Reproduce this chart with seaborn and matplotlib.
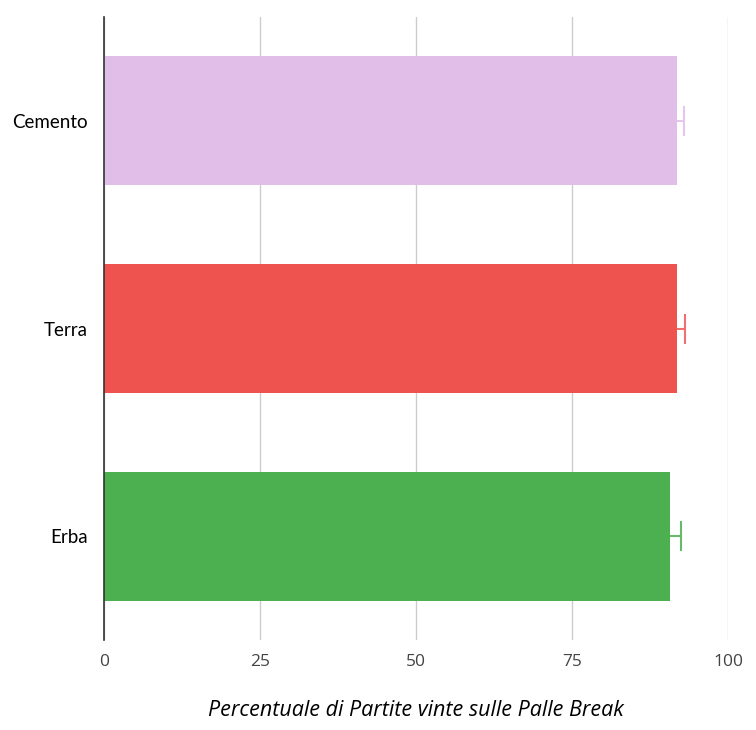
import matplotlib
matplotlib.use("Agg")
import matplotlib.pyplot as plt
import seaborn as sns
import pandas as pd

categories = ["Cemento", "Terra", "Erba"]
values = [91.9, 91.9, 90.7]
errors = [1.0, 1.2, 1.8]
colors = ["#e1bee7", "#ef5350", "#4caf50"]
err_colors = ["#e6c6ec", "#f07070", "#66bb6a"]
xticks = [0, 25, 50, 75, 100]

sns.set_theme(style="white")
plt.rcParams['font.family'] = ['Open Sans', 'DejaVu Sans']

df = pd.DataFrame({"cat": categories, "val": values})

fig = plt.figure(figsize=(7.56, 7.30), dpi=100)
ax = fig.add_axes([104/756, 1 - 640/730, (728-104)/756, (640-17)/730])

sns.barplot(data=df, x="val", y="cat", hue="cat", palette=colors, order=categories,
            orient="h", width=0.62, ax=ax, legend=False, errorbar=None, zorder=3,
            saturation=1)
for p in ax.patches:
    p.set_edgecolor("none")

for i, (v, e, c) in enumerate(zip(values, errors, err_colors)):
    ax.errorbar(v, i, xerr=e, fmt="none", ecolor=c, elinewidth=1.5,
                capsize=11, capthick=1.5, zorder=2)

ax.set_xlim(0, 100)
ax.set_ylim(2.5, -0.5)
ax.set_xticks(xticks)
ax.set_xticklabels([str(t) for t in xticks], color="#444444", fontsize=12.5)
ax.tick_params(axis="x", length=0, pad=10)
ax.tick_params(axis="y", length=0, pad=11.5)
for lbl in ax.get_yticklabels():
    lbl.set_fontfamily(["Lato", "DejaVu Sans"])
    lbl.set_fontsize(13.5)
    lbl.set_color("black")
ax.grid(axis="x", color="#cccccc", linewidth=1, zorder=0)
ax.set_axisbelow(True)
for s in ["top", "right", "bottom"]:
    ax.spines[s].set_visible(False)
ax.spines["left"].set_color("#333333")
ax.spines["left"].set_linewidth(1.2)
ax.spines["left"].set_zorder(5)
ax.set_ylabel("")
ax.set_xlabel("Percentuale di Partite vinte sulle Palle Break", fontstyle="italic",
              fontsize=15.5, color="black", labelpad=22)

fig.savefig("out.png", dpi=100)
